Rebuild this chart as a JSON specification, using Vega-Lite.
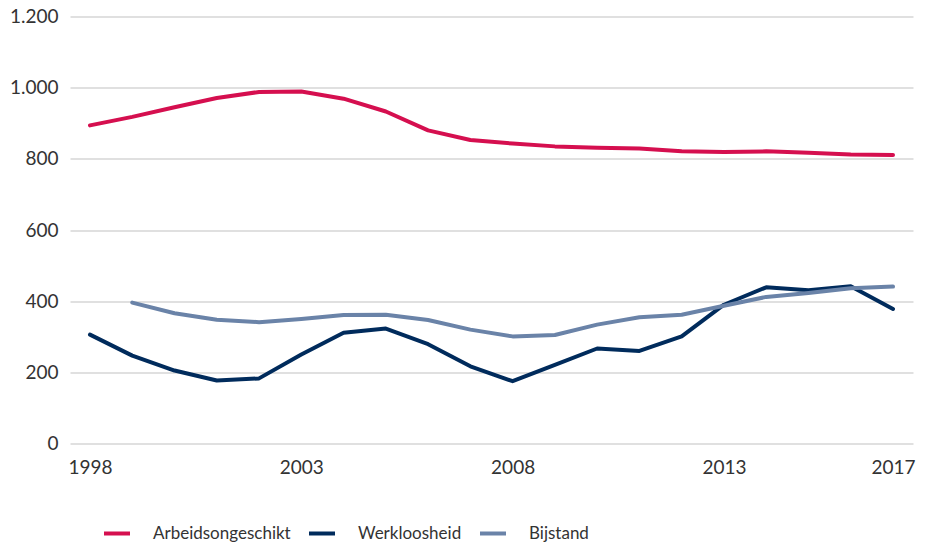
{
  "$schema": "https://vega.github.io/schema/vega-lite/v6.json",
  "width": 843,
  "height": 427,
  "autosize": {"type": "none"},
  "padding": {"left": 70, "top": 16.5, "right": 14, "bottom": 103.5},
  "config": {
    "view": {"stroke": null},
    "font": "Lato",
    "axis": {"labelFont": "Lato", "labelFontSize": 19, "labelColor": "#333333", "grid": true, "gridColor": "#d6d6d6", "gridWidth": 1.3, "domain": false, "ticks": false, "title": null},
    "legend": {"labelFont": "Lato", "labelFontSize": 17, "labelColor": "#333333"}
  },
  "data": {"values": [
    {"jaar": 1998, "reeks": "Arbeidsongeschikt", "waarde": 894},
    {"jaar": 1999, "reeks": "Arbeidsongeschikt", "waarde": 918},
    {"jaar": 2000, "reeks": "Arbeidsongeschikt", "waarde": 945},
    {"jaar": 2001, "reeks": "Arbeidsongeschikt", "waarde": 971},
    {"jaar": 2002, "reeks": "Arbeidsongeschikt", "waarde": 988},
    {"jaar": 2003, "reeks": "Arbeidsongeschikt", "waarde": 989},
    {"jaar": 2004, "reeks": "Arbeidsongeschikt", "waarde": 969},
    {"jaar": 2005, "reeks": "Arbeidsongeschikt", "waarde": 933},
    {"jaar": 2006, "reeks": "Arbeidsongeschikt", "waarde": 880},
    {"jaar": 2007, "reeks": "Arbeidsongeschikt", "waarde": 853},
    {"jaar": 2008, "reeks": "Arbeidsongeschikt", "waarde": 843},
    {"jaar": 2009, "reeks": "Arbeidsongeschikt", "waarde": 835},
    {"jaar": 2010, "reeks": "Arbeidsongeschikt", "waarde": 831},
    {"jaar": 2011, "reeks": "Arbeidsongeschikt", "waarde": 829},
    {"jaar": 2012, "reeks": "Arbeidsongeschikt", "waarde": 821},
    {"jaar": 2013, "reeks": "Arbeidsongeschikt", "waarde": 819},
    {"jaar": 2014, "reeks": "Arbeidsongeschikt", "waarde": 821},
    {"jaar": 2015, "reeks": "Arbeidsongeschikt", "waarde": 817},
    {"jaar": 2016, "reeks": "Arbeidsongeschikt", "waarde": 812},
    {"jaar": 2017, "reeks": "Arbeidsongeschikt", "waarde": 811},
    {"jaar": 1998, "reeks": "Werkloosheid", "waarde": 306},
    {"jaar": 1999, "reeks": "Werkloosheid", "waarde": 247},
    {"jaar": 2000, "reeks": "Werkloosheid", "waarde": 205},
    {"jaar": 2001, "reeks": "Werkloosheid", "waarde": 177},
    {"jaar": 2002, "reeks": "Werkloosheid", "waarde": 183},
    {"jaar": 2003, "reeks": "Werkloosheid", "waarde": 250},
    {"jaar": 2004, "reeks": "Werkloosheid", "waarde": 311},
    {"jaar": 2005, "reeks": "Werkloosheid", "waarde": 323},
    {"jaar": 2006, "reeks": "Werkloosheid", "waarde": 279},
    {"jaar": 2007, "reeks": "Werkloosheid", "waarde": 217},
    {"jaar": 2008, "reeks": "Werkloosheid", "waarde": 175},
    {"jaar": 2009, "reeks": "Werkloosheid", "waarde": 221},
    {"jaar": 2010, "reeks": "Werkloosheid", "waarde": 267},
    {"jaar": 2011, "reeks": "Werkloosheid", "waarde": 260},
    {"jaar": 2012, "reeks": "Werkloosheid", "waarde": 301},
    {"jaar": 2013, "reeks": "Werkloosheid", "waarde": 390},
    {"jaar": 2014, "reeks": "Werkloosheid", "waarde": 439},
    {"jaar": 2015, "reeks": "Werkloosheid", "waarde": 431},
    {"jaar": 2016, "reeks": "Werkloosheid", "waarde": 442},
    {"jaar": 2017, "reeks": "Werkloosheid", "waarde": 378},
    {"jaar": 1999, "reeks": "Bijstand", "waarde": 396},
    {"jaar": 2000, "reeks": "Bijstand", "waarde": 366},
    {"jaar": 2001, "reeks": "Bijstand", "waarde": 348},
    {"jaar": 2002, "reeks": "Bijstand", "waarde": 341},
    {"jaar": 2003, "reeks": "Bijstand", "waarde": 350},
    {"jaar": 2004, "reeks": "Bijstand", "waarde": 361},
    {"jaar": 2005, "reeks": "Bijstand", "waarde": 362},
    {"jaar": 2006, "reeks": "Bijstand", "waarde": 347},
    {"jaar": 2007, "reeks": "Bijstand", "waarde": 320},
    {"jaar": 2008, "reeks": "Bijstand", "waarde": 301},
    {"jaar": 2009, "reeks": "Bijstand", "waarde": 305},
    {"jaar": 2010, "reeks": "Bijstand", "waarde": 334},
    {"jaar": 2011, "reeks": "Bijstand", "waarde": 355},
    {"jaar": 2012, "reeks": "Bijstand", "waarde": 362},
    {"jaar": 2013, "reeks": "Bijstand", "waarde": 387},
    {"jaar": 2014, "reeks": "Bijstand", "waarde": 412},
    {"jaar": 2015, "reeks": "Bijstand", "waarde": 423},
    {"jaar": 2016, "reeks": "Bijstand", "waarde": 436},
    {"jaar": 2017, "reeks": "Bijstand", "waarde": 441}
  ]},
  "mark": {"type": "line", "strokeWidth": 4, "strokeCap": "round", "strokeJoin": "round"},
  "encoding": {
    "x": {
      "field": "jaar", "type": "quantitative",
      "scale": {"domain": [1997.527, 2017.473], "nice": false, "zero": false},
      "axis": {"values": [1998, 2003, 2008, 2013, 2017], "format": "d", "grid": false, "labelPadding": 15, "labelFlush": false}
    },
    "y": {
      "field": "waarde", "type": "quantitative",
      "scale": {"domain": [0, 1200], "nice": false},
      "axis": {"values": [0, 200, 400, 600, 800, 1000, 1200], "labelExpr": "replace(format(datum.value, ','), ',', '.')", "labelPadding": 12}
    },
    "color": {
      "field": "reeks", "type": "nominal",
      "scale": {"domain": ["Arbeidsongeschikt", "Werkloosheid", "Bijstand"], "range": ["#d50f4f", "#002b5c", "#6a83a8"]},
      "legend": {"title": null, "orient": "none", "direction": "horizontal", "legendX": 32, "legendY": 502, "symbolType": "stroke", "symbolSize": 676, "symbolStrokeWidth": 4, "labelOffset": 21, "columnPadding": 10}
    }
  }
}
